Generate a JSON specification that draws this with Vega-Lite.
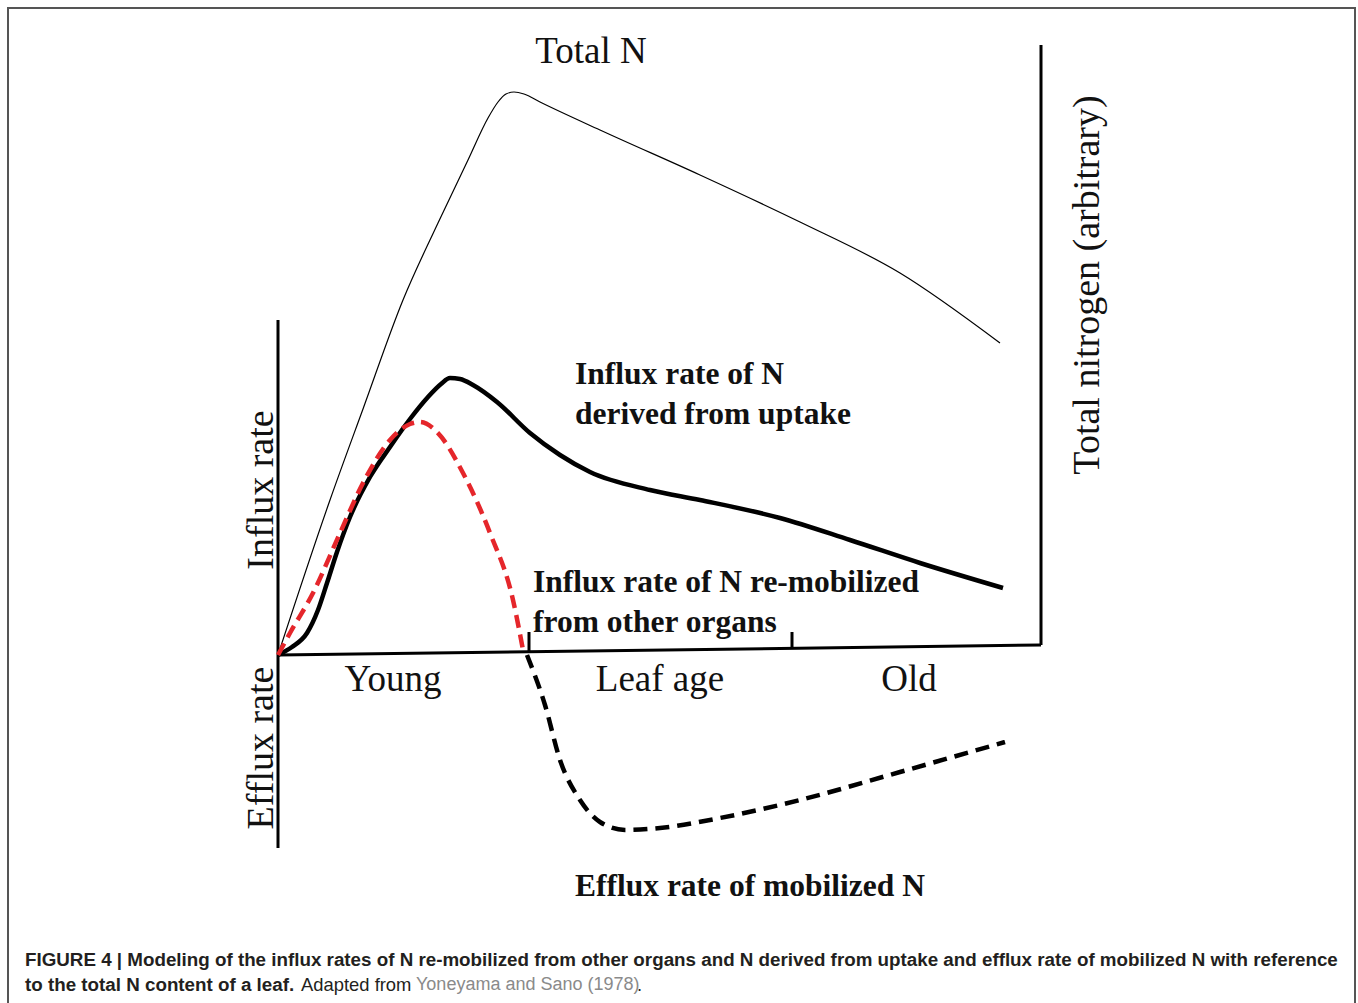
{
  "$schema": "https://vega.github.io/schema/vega-lite/v6.json",
  "width": 1358,
  "height": 1003,
  "autosize": "none",
  "padding": 0,
  "background": "white",
  "config": {"view": {"stroke": null}},
  "datasets": {
    "curves": [
      {"series": "total", "age": 0, "rate": 0},
      {"series": "total", "age": 52, "rate": 155},
      {"series": "total", "age": 85, "rate": 246},
      {"series": "total", "age": 125, "rate": 355},
      {"series": "total", "age": 160, "rate": 432},
      {"series": "total", "age": 190, "rate": 495},
      {"series": "total", "age": 210, "rate": 537},
      {"series": "total", "age": 220, "rate": 553},
      {"series": "total", "age": 228, "rate": 561},
      {"series": "total", "age": 236, "rate": 563},
      {"series": "total", "age": 246, "rate": 561},
      {"series": "total", "age": 262, "rate": 553},
      {"series": "total", "age": 322, "rate": 525},
      {"series": "total", "age": 422, "rate": 480},
      {"series": "total", "age": 522, "rate": 433},
      {"series": "total", "age": 622, "rate": 382},
      {"series": "total", "age": 722, "rate": 312},
      {"series": "uptake", "age": 0, "rate": 0},
      {"series": "uptake", "age": 14, "rate": 8},
      {"series": "uptake", "age": 29, "rate": 22},
      {"series": "uptake", "age": 40, "rate": 45},
      {"series": "uptake", "age": 49, "rate": 72},
      {"series": "uptake", "age": 59, "rate": 103},
      {"series": "uptake", "age": 72, "rate": 138},
      {"series": "uptake", "age": 92, "rate": 178},
      {"series": "uptake", "age": 112, "rate": 208},
      {"series": "uptake", "age": 132, "rate": 236},
      {"series": "uptake", "age": 150, "rate": 258},
      {"series": "uptake", "age": 163, "rate": 271},
      {"series": "uptake", "age": 172, "rate": 277},
      {"series": "uptake", "age": 182, "rate": 276},
      {"series": "uptake", "age": 195, "rate": 270},
      {"series": "uptake", "age": 219, "rate": 253},
      {"series": "uptake", "age": 252, "rate": 222},
      {"series": "uptake", "age": 282, "rate": 200},
      {"series": "uptake", "age": 312, "rate": 183},
      {"series": "uptake", "age": 372, "rate": 165},
      {"series": "uptake", "age": 422, "rate": 155},
      {"series": "uptake", "age": 502, "rate": 137},
      {"series": "uptake", "age": 572, "rate": 115},
      {"series": "uptake", "age": 642, "rate": 92},
      {"series": "uptake", "age": 725, "rate": 67},
      {"series": "remob", "age": 0, "rate": 0},
      {"series": "remob", "age": 12, "rate": 22},
      {"series": "remob", "age": 35, "rate": 62},
      {"series": "remob", "age": 62, "rate": 122},
      {"series": "remob", "age": 85, "rate": 172},
      {"series": "remob", "age": 112, "rate": 215},
      {"series": "remob", "age": 132, "rate": 231},
      {"series": "remob", "age": 142, "rate": 233},
      {"series": "remob", "age": 159, "rate": 223},
      {"series": "remob", "age": 185, "rate": 182},
      {"series": "remob", "age": 212, "rate": 122},
      {"series": "remob", "age": 235, "rate": 55},
      {"series": "remob", "age": 245, "rate": 5},
      {"series": "efflux", "age": 249, "rate": 0},
      {"series": "efflux", "age": 267, "rate": -50},
      {"series": "efflux", "age": 282, "rate": -105},
      {"series": "efflux", "age": 302, "rate": -145},
      {"series": "efflux", "age": 322, "rate": -167},
      {"series": "efflux", "age": 347, "rate": -175},
      {"series": "efflux", "age": 382, "rate": -173},
      {"series": "efflux", "age": 442, "rate": -163},
      {"series": "efflux", "age": 522, "rate": -145},
      {"series": "efflux", "age": 622, "rate": -117},
      {"series": "efflux", "age": 727, "rate": -87}
    ],
    "axes": [
      {"part": "left", "age": 0, "rate": 335, "age2": 0, "rate2": -193},
      {"part": "bottom", "age": 0, "rate": 0, "age2": 763, "rate2": 10},
      {"part": "right", "age": 763, "rate": 10, "age2": 763, "rate2": 610},
      {"part": "tick1", "age": 251, "rate": 4, "age2": 251, "rate2": 23},
      {"part": "tick2", "age": 514, "rate": 7, "age2": 514, "rate2": 23}
    ],
    "frame": [
      {"age": -270, "rate": 647, "age2": 1077, "rate2": -400}
    ],
    "serifCenter": [
      {"age": 313, "rate": 603, "text": "Total N"},
      {"age": 115, "rate": -25, "text": "Young"},
      {"age": 382, "rate": -25, "text": "Leaf age"},
      {"age": 631, "rate": -25, "text": "Old"}
    ],
    "serifBold": [
      {"age": 297, "rate": 280, "text": "Influx rate of  N"},
      {"age": 297, "rate": 240, "text": "derived from uptake"},
      {"age": 255, "rate": 72, "text": "Influx rate of N re-mobilized"},
      {"age": 255, "rate": 32, "text": "from other organs"},
      {"age": 297, "rate": -232, "text": "Efflux rate of mobilized N"}
    ],
    "serifRot": [
      {"age": -16, "rate": 165, "text": "Influx rate"},
      {"age": -16, "rate": -93, "text": "Efflux rate"},
      {"age": 810, "rate": 370, "text": "Total nitrogen (arbitrary)"}
    ],
    "capBold": [
      {"age": -253, "rate": -305, "text": "FIGURE 4 | Modeling of the influx rates of N re-mobilized from other organs and N derived from uptake and efflux rate of mobilized N with reference"},
      {"age": -253, "rate": -330, "text": "to the total N content of a leaf."}
    ],
    "capNormal": [
      {"age": 23, "rate": -330, "text": "Adapted from"},
      {"age": 359, "rate": -330, "text": "."}
    ],
    "capLink": [
      {"age": 138, "rate": -330, "text": "Yoneyama and Sano (1978)"}
    ]
  },
  "layer": [
    {
      "data": {"name": "frame"},
      "mark": {"type": "rect", "fill": null, "stroke": "#555555", "strokeWidth": 2},
      "encoding": {
        "x": {"field": "age", "type": "quantitative", "scale": {"domain": [-278, 1080], "nice": false, "zero": false}, "axis": null},
        "x2": {"field": "age2"},
        "y": {"field": "rate", "type": "quantitative", "scale": {"domain": [-348, 655], "nice": false, "zero": false}, "axis": null},
        "y2": {"field": "rate2"}
      }
    },
    {
      "data": {"name": "axes"},
      "mark": {"type": "rule", "color": "#000000", "strokeWidth": 3},
      "encoding": {
        "x": {"field": "age", "type": "quantitative", "scale": {"domain": [-278, 1080], "nice": false, "zero": false}, "axis": null},
        "x2": {"field": "age2"},
        "y": {"field": "rate", "type": "quantitative", "scale": {"domain": [-348, 655], "nice": false, "zero": false}, "axis": null},
        "y2": {"field": "rate2"}
      }
    },
    {
      "data": {"name": "curves"},
      "transform": [{"filter": "datum.series === 'total'"}],
      "mark": {"type": "line", "color": "#000000", "strokeWidth": 1.2, "interpolate": "monotone"},
      "encoding": {
        "x": {"field": "age", "type": "quantitative", "scale": {"domain": [-278, 1080], "nice": false, "zero": false}, "axis": null},
        "y": {"field": "rate", "type": "quantitative", "scale": {"domain": [-348, 655], "nice": false, "zero": false}, "axis": null}
      }
    },
    {
      "data": {"name": "curves"},
      "transform": [{"filter": "datum.series === 'uptake'"}],
      "mark": {"type": "line", "color": "#000000", "strokeWidth": 4.5, "interpolate": "monotone"},
      "encoding": {
        "x": {"field": "age", "type": "quantitative", "scale": {"domain": [-278, 1080], "nice": false, "zero": false}, "axis": null},
        "y": {"field": "rate", "type": "quantitative", "scale": {"domain": [-348, 655], "nice": false, "zero": false}, "axis": null}
      }
    },
    {
      "data": {"name": "curves"},
      "transform": [{"filter": "datum.series === 'remob'"}],
      "mark": {"type": "line", "color": "#e5262b", "strokeWidth": 4.5, "strokeDash": [13, 7], "interpolate": "monotone"},
      "encoding": {
        "x": {"field": "age", "type": "quantitative", "scale": {"domain": [-278, 1080], "nice": false, "zero": false}, "axis": null},
        "y": {"field": "rate", "type": "quantitative", "scale": {"domain": [-348, 655], "nice": false, "zero": false}, "axis": null}
      }
    },
    {
      "data": {"name": "curves"},
      "transform": [{"filter": "datum.series === 'efflux'"}],
      "mark": {"type": "line", "color": "#000000", "strokeWidth": 4.5, "strokeDash": [14, 8], "interpolate": "monotone"},
      "encoding": {
        "x": {"field": "age", "type": "quantitative", "scale": {"domain": [-278, 1080], "nice": false, "zero": false}, "axis": null},
        "y": {"field": "rate", "type": "quantitative", "scale": {"domain": [-348, 655], "nice": false, "zero": false}, "axis": null}
      }
    },
    {
      "data": {"name": "serifCenter"},
      "mark": {"type": "text", "font": "Liberation Serif", "fontSize": 37, "align": "center", "baseline": "middle", "color": "#111111"},
      "encoding": {
        "x": {"field": "age", "type": "quantitative", "scale": {"domain": [-278, 1080], "nice": false, "zero": false}, "axis": null},
        "y": {"field": "rate", "type": "quantitative", "scale": {"domain": [-348, 655], "nice": false, "zero": false}, "axis": null},
        "text": {"field": "text"}
      }
    },
    {
      "data": {"name": "serifBold"},
      "mark": {"type": "text", "font": "Liberation Serif", "fontSize": 31.5, "fontWeight": "bold", "align": "left", "baseline": "middle", "color": "#111111"},
      "encoding": {
        "x": {"field": "age", "type": "quantitative", "scale": {"domain": [-278, 1080], "nice": false, "zero": false}, "axis": null},
        "y": {"field": "rate", "type": "quantitative", "scale": {"domain": [-348, 655], "nice": false, "zero": false}, "axis": null},
        "text": {"field": "text"}
      }
    },
    {
      "data": {"name": "serifRot"},
      "mark": {"type": "text", "font": "Liberation Serif", "fontSize": 38, "angle": 270, "align": "center", "baseline": "middle", "color": "#111111"},
      "encoding": {
        "x": {"field": "age", "type": "quantitative", "scale": {"domain": [-278, 1080], "nice": false, "zero": false}, "axis": null},
        "y": {"field": "rate", "type": "quantitative", "scale": {"domain": [-348, 655], "nice": false, "zero": false}, "axis": null},
        "text": {"field": "text"}
      }
    },
    {
      "data": {"name": "capBold"},
      "mark": {"type": "text", "font": "Liberation Sans Narrow, Liberation Sans, sans-serif", "fontSize": 18.8, "fontWeight": "bold", "align": "left", "baseline": "middle", "color": "#231f20"},
      "encoding": {
        "x": {"field": "age", "type": "quantitative", "scale": {"domain": [-278, 1080], "nice": false, "zero": false}, "axis": null},
        "y": {"field": "rate", "type": "quantitative", "scale": {"domain": [-348, 655], "nice": false, "zero": false}, "axis": null},
        "text": {"field": "text"}
      }
    },
    {
      "data": {"name": "capNormal"},
      "mark": {"type": "text", "font": "Liberation Sans Narrow, Liberation Sans, sans-serif", "fontSize": 18.4, "align": "left", "baseline": "middle", "color": "#231f20"},
      "encoding": {
        "x": {"field": "age", "type": "quantitative", "scale": {"domain": [-278, 1080], "nice": false, "zero": false}, "axis": null},
        "y": {"field": "rate", "type": "quantitative", "scale": {"domain": [-348, 655], "nice": false, "zero": false}, "axis": null},
        "text": {"field": "text"}
      }
    },
    {
      "data": {"name": "capLink"},
      "mark": {"type": "text", "font": "Liberation Sans Narrow, Liberation Sans, sans-serif", "fontSize": 18, "align": "left", "baseline": "middle", "color": "#8a8a8a"},
      "encoding": {
        "x": {"field": "age", "type": "quantitative", "scale": {"domain": [-278, 1080], "nice": false, "zero": false}, "axis": null},
        "y": {"field": "rate", "type": "quantitative", "scale": {"domain": [-348, 655], "nice": false, "zero": false}, "axis": null},
        "text": {"field": "text"}
      }
    }
  ]
}
